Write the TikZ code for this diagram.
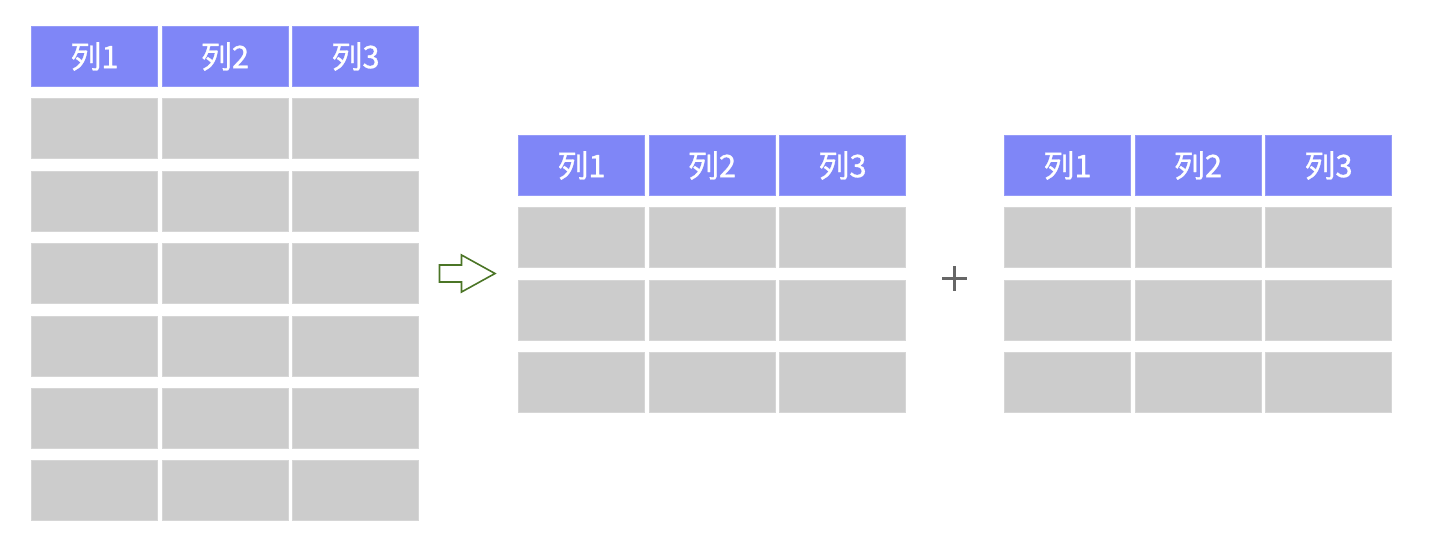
\documentclass[tikz,border=0pt]{standalone}
\usepackage{fontspec}
\newfontfamily\cjk[FakeBold=0.9]{Noto Sans CJK SC}
\definecolor{hdrfill}{HTML}{7F86F7}
\definecolor{hdrline}{HTML}{959BF8}
\definecolor{cellfill}{HTML}{CCCCCC}
\definecolor{cellline}{HTML}{D6D6D6}
\definecolor{arrowgreen}{HTML}{4B7526}
\definecolor{plusgray}{HTML}{666666}
\begin{document}
\begin{tikzpicture}[x=1pt,y=-1pt,
  datacell/.style={rectangle, anchor=north west, minimum width=126pt, minimum height=60pt, inner sep=0pt, fill=cellfill, draw=cellline, line width=1pt},
  hdrcell/.style={datacell, fill=hdrfill, draw=hdrline, text=white, font=\cjk\fontsize{31}{31}\selectfont},
  blockarrow/.style={draw=arrowgreen, line width=1.6pt, line join=miter, fill=white},
  plussign/.style={draw=plusgray, line width=3.4pt}]
\useasboundingbox (0,0) rectangle (1436,550);
\fill[white] (0,0) rectangle (1436,550);
\foreach \t/\ox/\oy/\n in {L/31/26/6, M/518/135/3, R/1004/135/3}{
  \foreach \c [count=\i] in {0,130.5,261}{
    \node[hdrcell] (\t h\i) at (\ox+\c,\oy) {列\i};
    \foreach \r in {1,...,\n}{
      \node[datacell] (\t r\r c\i) at (\ox+\c,\oy+72.4*\r) {};
    }
  }
}
\draw[blockarrow] (439.5,265) -- (461.5,265) -- (461.5,255) -- (495,273.5) -- (461.5,292) -- (461.5,282) -- (439.5,282) -- cycle;
\draw[plussign] (942,278.3) -- (966.6,278.3) (954.3,266) -- (954.3,290.6);
\end{tikzpicture}
\end{document}
